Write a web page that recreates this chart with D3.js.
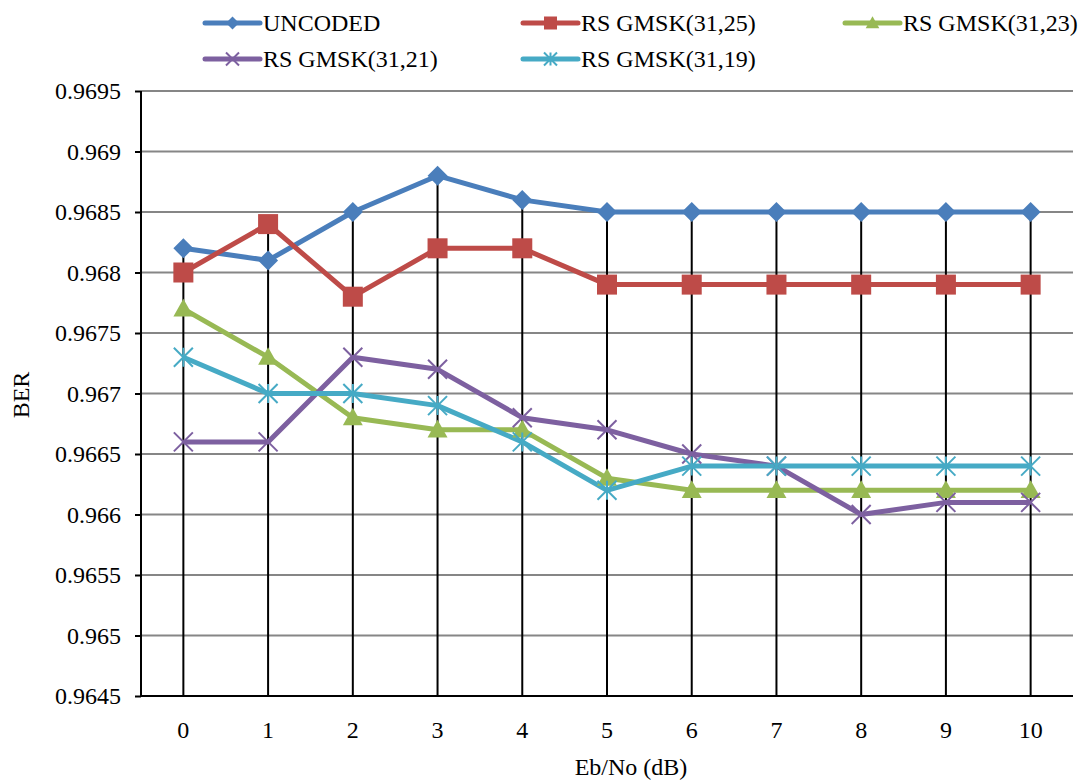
<!DOCTYPE html>
<html><head><meta charset="utf-8">
<script src="https://cdn.jsdelivr.net/npm/d3@7"></script>
<style>body{margin:0;background:#fff}svg{display:block}text{font-family:"Liberation Serif","Times New Roman",serif;fill:#000}</style>
</head><body><svg id="c" width="1083" height="781"></svg>
<script>
const categories = [0,1,2,3,4,5,6,7,8,9,10];
const uncoded  = [0.9682,0.9681,0.9685,0.9688,0.9686,0.9685,0.9685,0.9685,0.9685,0.9685,0.9685];
const rs3125   = [0.9680,0.9684,0.9678,0.9682,0.9682,0.9679,0.9679,0.9679,0.9679,0.9679,0.9679];
const rs3123   = [0.9677,0.9673,0.9668,0.9667,0.9667,0.9663,0.9662,0.9662,0.9662,0.9662,0.9662];
const rs3121   = [0.9666,0.9666,0.9673,0.9672,0.9668,0.9667,0.9665,0.9664,0.9660,0.9661,0.9661];
const rs3119   = [0.9673,0.9670,0.9670,0.9669,0.9666,0.9662,0.9664,0.9664,0.9664,0.9664,0.9664];
const seriesNames = ["UNCODED","RS GMSK(31,25)","RS GMSK(31,23)","RS GMSK(31,21)","RS GMSK(31,19)"];
const yTicks = [0.9645,0.965,0.9655,0.966,0.9665,0.967,0.9675,0.968,0.9685,0.969,0.9695];
const yTickLabels = ["0.9645","0.965","0.9655","0.966","0.9665","0.967","0.9675","0.968","0.9685","0.969","0.9695"];

const colors = ["#4A7EBB","#BE4B48","#98B954","#7D60A0","#46AAC5"];
const markers = ["diamond","square","triangle","x","star"];
const data = [uncoded, rs3125, rs3123, rs3121, rs3119];

const svg = d3.select("#c");
const L = 141, R = 1073, T = 91, B = 696;
const FS = "24px";
const x = d3.scaleBand().domain(categories).range([L,R]);
const y = d3.scaleLinear().domain([0.9645,0.9695]).range([B,T]);
const cx = d => x(d) + x.bandwidth()/2;

// gridlines
svg.append("g").selectAll("line").data(yTicks.slice(1)).join("line")
  .attr("x1",L).attr("x2",R).attr("y1",d=>y(d)).attr("y2",d=>y(d))
  .attr("stroke","#868686").attr("stroke-width",2);

// drop lines
svg.append("g").selectAll("line").data(categories).join("line")
  .attr("x1",d=>cx(d)).attr("x2",d=>cx(d))
  .attr("y1",B).attr("y2",(d,i)=>y(d3.max(data,s=>s[i])))
  .attr("stroke","#000").attr("stroke-width",2);

// axes
const yAxis = d3.axisLeft(y).tickValues(yTicks).tickFormat((d,i)=>yTickLabels[i]).tickSize(6).tickPadding(14);
const gy = svg.append("g").attr("transform",`translate(${L},0)`).call(yAxis);
gy.select(".domain").attr("stroke","#000").attr("stroke-width",2).attr("d",`M0,${T}V${B}`);
gy.selectAll(".tick line").attr("stroke","#000").attr("stroke-width",2);
gy.selectAll("text").style("font-size",FS).style("font-family","Liberation Serif");

const xAxis = d3.axisBottom(x).tickSize(0).tickPadding(25);
const gx = svg.append("g").attr("transform",`translate(0,${B})`).call(xAxis);
gx.select(".domain").attr("stroke","#000").attr("stroke-width",2).attr("d",`M${L},0H${R}`);
gx.selectAll("text").style("font-size",FS).style("font-family","Liberation Serif");

function drawMarker(g, type, color, s){
  if(type==="diamond"){
    g.append("path").attr("d",`M0,${-s}L${s},0L0,${s}L${-s},0Z`).attr("fill",color);
  } else if(type==="square"){
    g.append("rect").attr("x",-s).attr("y",-s).attr("width",2*s).attr("height",2*s).attr("fill",color);
  } else if(type==="triangle"){
    g.append("path").attr("d",`M0,${-s*1.05}L${s*1.05},${s*0.8}L${-s*1.05},${s*0.8}Z`).attr("fill",color);
  } else if(type==="x"){
    g.append("path").attr("d",`M${-s},${-s}L${s},${s}M${-s},${s}L${s},${-s}`).attr("stroke",color).attr("stroke-width",2);
  } else if(type==="star"){
    g.append("path").attr("d",`M${-s},${-s}L${s},${s}M${-s},${s}L${s},${-s}M0,${-s}V${s}`).attr("stroke",color).attr("stroke-width",2);
  }
}

const line = d3.line().x((d,i)=>cx(categories[i])).y(d=>y(d));
data.forEach((s,k)=>{
  svg.append("path").datum(s).attr("d",line).attr("fill","none")
    .attr("stroke",colors[k]).attr("stroke-width",5).attr("stroke-linejoin","round");
});
data.forEach((s,k)=>{
  s.forEach((v,i)=>{
    const g = svg.append("g").attr("transform",`translate(${cx(categories[i])},${y(v)})`);
    drawMarker(g, markers[k], colors[k], k<2?10:9.5);
  });
});

// legend
const legPos = [[205,23],[523,23],[845,23],[205,59],[523,59]];
seriesNames.forEach((n,k)=>{
  const [lx,ly] = legPos[k];
  svg.append("line").attr("x1",lx).attr("x2",lx+55).attr("y1",ly).attr("y2",ly)
    .attr("stroke",colors[k]).attr("stroke-width",5).attr("stroke-linecap","round");
  const g = svg.append("g").attr("transform",`translate(${lx+27.5},${ly})`);
  drawMarker(g, markers[k], colors[k], 6.5);
  svg.append("text").attr("x",lx+58).attr("y",ly).attr("dy","0.35em").style("font-size",FS).text(n);
});

// axis titles
svg.append("text").attr("transform","translate(29,395) rotate(-90)").attr("text-anchor","middle").style("font-size",FS).text("BER");
svg.append("text").attr("x",631).attr("y",775).attr("text-anchor","middle").style("font-size",FS).text("Eb/No (dB)");
</script></body></html>
